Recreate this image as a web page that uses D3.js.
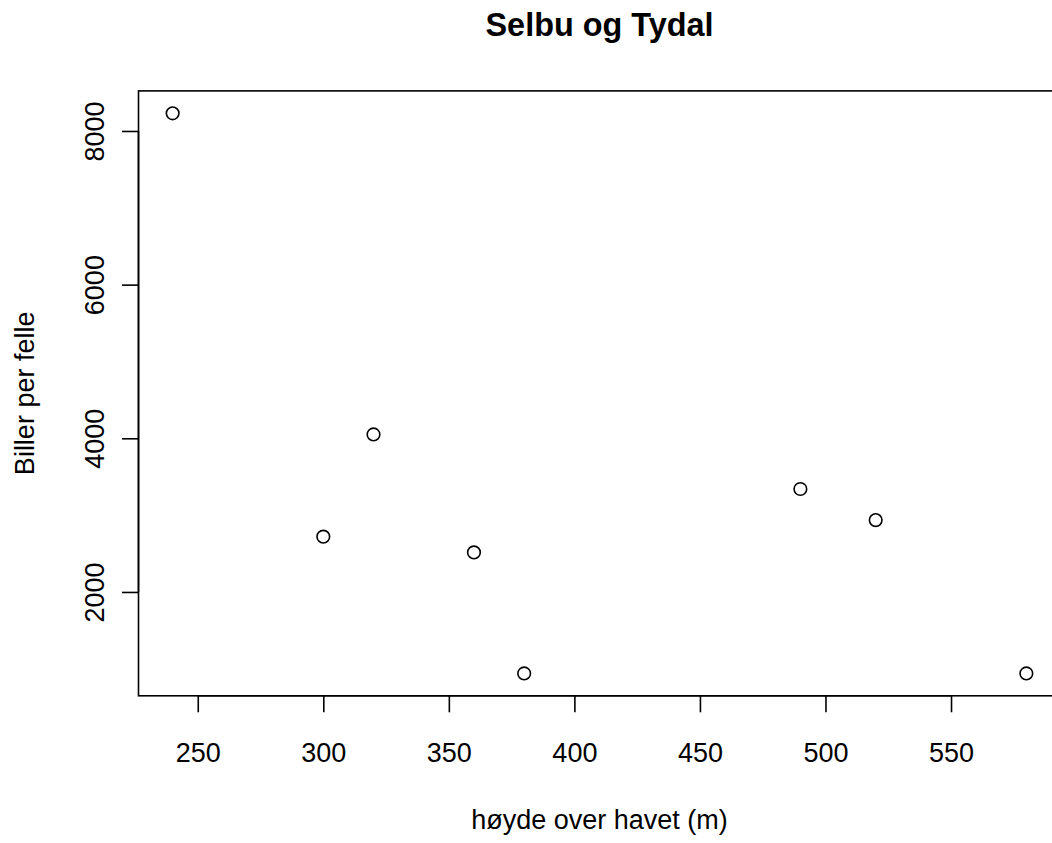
<!DOCTYPE html>
<html>
<head>
<meta charset="utf-8">
<script src="https://cdn.jsdelivr.net/npm/d3@7"></script>
<style>
  html, body { margin: 0; padding: 0; background: #fff; }
  svg { display: block; font-family: "Liberation Sans", Arial, Helvetica, sans-serif; }
</style>
</head>
<body>
<svg id="chart" width="1052" height="843"></svg>
<script>
// Data
const elevation = [240, 300, 320, 360, 380, 490, 520, 580];
const beetles   = [8230, 2720, 4050, 2515, 940, 3340, 2935, 940];
const xTicks = [250, 300, 350, 400, 450, 500, 550];
const yTicks = [2000, 4000, 6000, 8000];
const titleText = "Selbu og Tydal";
const xLabel = "høyde over havet (m)";
const yLabel = "Biller per felle";

const W = 1052, H = 843;
const plot = { left: 138.5, right: 1060.5, top: 90.9, bottom: 695.8 };

function padded(arr) {
  const [mn, mx] = d3.extent(arr);
  const d = (mx - mn) * 0.04;
  return [mn - d, mx + d];
}

const x = d3.scaleLinear().domain(padded(elevation)).range([plot.left, plot.right]);
const y = d3.scaleLinear().domain(padded(beetles)).range([plot.bottom, plot.top]);

const svg = d3.select("#chart");
svg.append("rect").attr("width", W).attr("height", H).attr("fill", "#fff");

// Box
svg.append("rect")
  .attr("x", plot.left).attr("y", plot.top)
  .attr("width", plot.right - plot.left).attr("height", plot.bottom - plot.top)
  .attr("fill", "none").attr("stroke", "#000").attr("stroke-width", 1.6);

// X axis
const xAxis = d3.axisBottom(x).tickValues(xTicks).tickSize(16.5).tickPadding(0).tickFormat(d3.format("d"));
const gx = svg.append("g").attr("transform", `translate(0,${plot.bottom})`).call(xAxis);
gx.select(".domain").attr("d", `M${x(xTicks[0])},0H${x(xTicks[xTicks.length-1])}`)
  .attr("stroke", "#000").attr("stroke-width", 1.6);
gx.selectAll(".tick line").attr("stroke", "#000").attr("stroke-width", 1.6);
gx.selectAll(".tick text").attr("font-size", 27).attr("fill", "#000")
  .attr("dy", null).attr("y", 66.5).attr("font-family", "Liberation Sans, Arial, sans-serif");

// Y axis
const yAxis = d3.axisLeft(y).tickValues(yTicks).tickSize(16.5).tickPadding(0).tickFormat(d3.format("d"));
const gy = svg.append("g").attr("transform", `translate(${plot.left},0)`).call(yAxis);
gy.select(".domain").attr("d", `M0,${y(yTicks[0])}V${y(yTicks[yTicks.length-1])}`)
  .attr("stroke", "#000").attr("stroke-width", 1.6);
gy.selectAll(".tick line").attr("stroke", "#000").attr("stroke-width", 1.6);
gy.selectAll(".tick text")
  .attr("font-size", 27).attr("fill", "#000").attr("font-family", "Liberation Sans, Arial, sans-serif")
  .attr("x", null).attr("dy", null)
  .attr("text-anchor", "middle")
  .attr("transform", "translate(-35,0) rotate(-90)");

// Points
svg.append("g").selectAll("circle")
  .data(elevation.map((e, i) => [e, beetles[i]]))
  .join("circle")
  .attr("cx", d => x(d[0]))
  .attr("cy", d => y(d[1]))
  .attr("r", 6.3)
  .attr("fill", "none")
  .attr("stroke", "#000")
  .attr("stroke-width", 1.6);

// Title
const cx = (plot.left + plot.right) / 2;
svg.append("text").attr("x", cx).attr("y", 36)
  .attr("text-anchor", "middle").attr("font-size", 32.4).attr("font-weight", "bold")
  .attr("fill", "#000").text(titleText);

// Axis titles
svg.append("text").attr("x", cx).attr("y", 829)
  .attr("text-anchor", "middle").attr("font-size", 27).attr("fill", "#000").text(xLabel);

svg.append("text")
  .attr("transform", `translate(34,${(plot.top + plot.bottom) / 2}) rotate(-90)`)
  .attr("text-anchor", "middle").attr("font-size", 27).attr("fill", "#000").text(yLabel);
</script>
</body>
</html>
